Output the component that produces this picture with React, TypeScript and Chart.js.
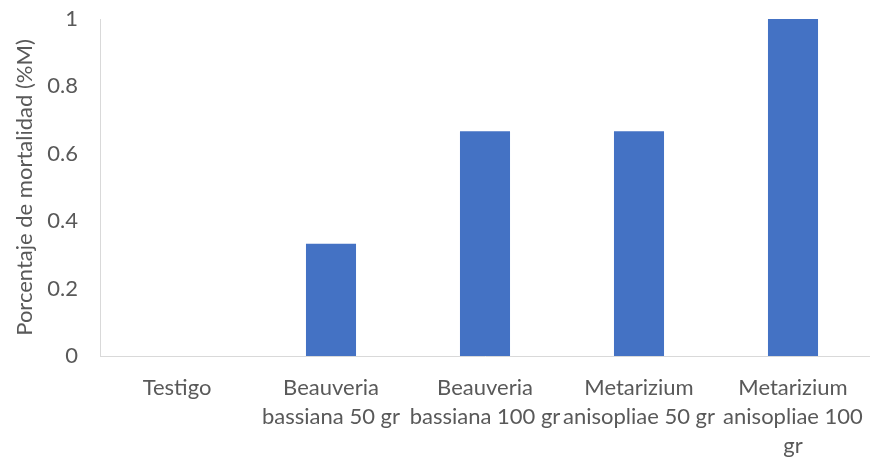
import React, { useEffect, useRef } from "react";
import { Chart, registerables } from "chart.js";

Chart.register(...registerables);

const categories: string[][] = [
  ["Testigo"],
  ["Beauveria", "bassiana 50 gr"],
  ["Beauveria", "bassiana 100 gr"],
  ["Metarizium", "anisopliae 50 gr"],
  ["Metarizium", "anisopliae 100", "gr"],
];
const mortality: number[] = [0, 0.3333, 0.6667, 0.6667, 1];
const yTitle = "Porcentaje de mortalidad (%M)";

const FONT = "Lato, 'Open Sans', sans-serif";
const TEXT = "#595959";

export default function App() {
  const ref = useRef<HTMLCanvasElement | null>(null);
  useEffect(() => {
    document.body.style.margin = "0";
    const ctx = ref.current!;
    const chart = new Chart(ctx, {
      type: "bar",
      data: {
        labels: categories,
        datasets: [
          {
            data: mortality,
            backgroundColor: "#4472C4",
            borderWidth: 0,
            categoryPercentage: 0.65,
            barPercentage: 0.5,
          },
        ],
      },
      options: {
        responsive: false,
        animation: false,
        layout: { padding: { top: 19, right: 0, left: 0, bottom: 0 } },
        plugins: { legend: { display: false }, tooltip: { enabled: false } },
        scales: {
          x: {
            grid: { display: false, drawTicks: false },
            border: { display: true, color: "#D9D9D9", width: 1 },
            ticks: {
              color: TEXT,
              font: { family: FONT, size: 22, lineHeight: 1.32 },
              padding: 17,
              maxRotation: 0,
              autoSkip: false,
            },
            afterFit: (s: any) => {
              s.height = 102;
              s.paddingLeft = 0;
              s.paddingRight = 0;
            },
          },
          y: {
            min: 0,
            max: 1,
            grid: { display: false, drawTicks: false },
            border: { display: true, color: "#D9D9D9", width: 1 },
            ticks: {
              stepSize: 0.2,
              color: TEXT,
              font: { family: FONT, size: 22 },
              padding: 22,
              callback: (v: any) => String(Math.round(Number(v) * 10) / 10),
            },
            title: {
              display: true,
              text: yTitle,
              color: TEXT,
              font: { family: FONT, size: 22 },
              padding: { top: 12, bottom: 0 },
            },
            afterFit: (s: any) => {
              s.width = 100;
              s.paddingTop = 0;
              s.paddingBottom = 0;
            },
          },
        },
      },
    });
    return () => chart.destroy();
  }, []);
  return (
    <div style={{ width: 870, height: 458 }}>
      <canvas ref={ref} width={870} height={458} />
    </div>
  );
}
